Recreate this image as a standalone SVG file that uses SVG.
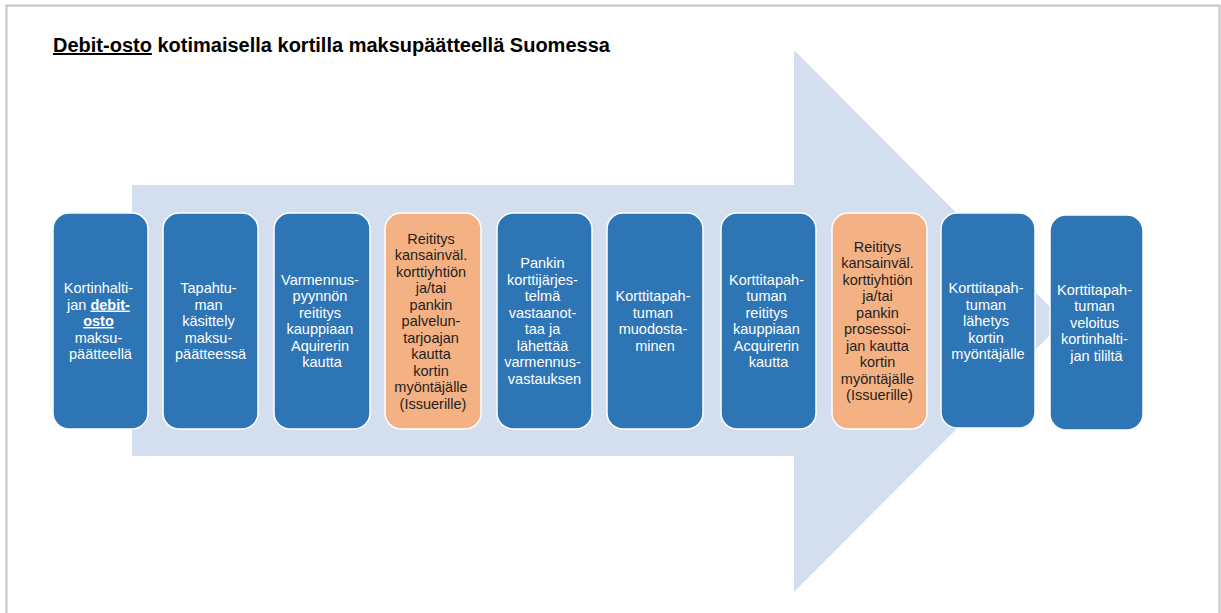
<svg xmlns="http://www.w3.org/2000/svg" width="1221" height="613" viewBox="0 0 1221 613">
  <style>
    .frame { fill: none; stroke: #c3c3c3; stroke-width: 2; }
    .arrow { fill: #d3deef; }
    .box { stroke: #ffffff; stroke-width: 1.5; }
    .blue { fill: #2e75b6; }
    .orange { fill: #f4b183; }
    .t { font-family: "Liberation Sans", Arial, sans-serif; font-size: 14.5px; text-anchor: middle; }
    .tw { fill: #ffffff; }
    .td { fill: #1f1f1f; }
    .title { font-family: "Liberation Sans", Arial, sans-serif; font-size: 20px; font-weight: bold; fill: #000000; }
    .u { text-decoration: underline; }
  </style>
  <rect width="1221" height="613" fill="#ffffff"/>
  <path class="frame" d="M6.5,613 V5.5 H1219.5 V613"/>
  <text class="title" x="53" y="52"><tspan class="u">Debit-osto</tspan> kotimaisella kortilla maksupäätteellä Suomessa</text>

  <g id="connectors">
    <polygon id="flow-arrow" class="arrow" points="132,185 794,185 794,50 1064,321 794,592 794,456 132,456"/>
  </g>

  <g id="n1">
    <rect class="box blue" x="53" y="213" width="95" height="216" rx="16"/>
    <text class="t tw" y="293">
      <tspan x="100.5">Kortinhalti-</tspan>
      <tspan x="100.5" dy="16.5">jan <tspan font-weight="bold" class="u">debit-</tspan></tspan>
      <tspan x="100.5" dy="16.5" font-weight="bold" class="u">osto</tspan>
      <tspan x="100.5" dy="16.5">maksu-</tspan>
      <tspan x="100.5" dy="16.5">päätteellä</tspan>
    </text>
  </g>
  <g id="n2">
    <rect class="box blue" x="163" y="213" width="95" height="216" rx="16"/>
    <text class="t tw" y="293">
      <tspan x="210.5">Tapahtu-</tspan>
      <tspan x="210.5" dy="16.5">man</tspan>
      <tspan x="210.5" dy="16.5">käsittely</tspan>
      <tspan x="210.5" dy="16.5">maksu-</tspan>
      <tspan x="210.5" dy="16.5">päätteessä</tspan>
    </text>
  </g>
  <g id="n3">
    <rect class="box blue" x="274" y="213" width="96" height="216" rx="16"/>
    <text class="t tw" y="284.75">
      <tspan x="322">Varmennus-</tspan>
      <tspan x="322" dy="16.5">pyynnön</tspan>
      <tspan x="322" dy="16.5">reititys</tspan>
      <tspan x="322" dy="16.5">kauppiaan</tspan>
      <tspan x="322" dy="16.5">Aquirerin</tspan>
      <tspan x="322" dy="16.5">kautta</tspan>
    </text>
  </g>
  <g id="n4">
    <rect class="box orange" x="385" y="213" width="96" height="216" rx="16"/>
    <text class="t td" y="243.5">
      <tspan x="433">Reititys</tspan>
      <tspan x="433" dy="16.5">kansainväl.</tspan>
      <tspan x="433" dy="16.5">korttiyhtiön</tspan>
      <tspan x="433" dy="16.5">ja/tai</tspan>
      <tspan x="433" dy="16.5">pankin</tspan>
      <tspan x="433" dy="16.5">palvelun-</tspan>
      <tspan x="433" dy="16.5">tarjoajan</tspan>
      <tspan x="433" dy="16.5">kautta</tspan>
      <tspan x="433" dy="16.5">kortin</tspan>
      <tspan x="433" dy="16.5">myöntäjälle</tspan>
      <tspan x="433" dy="16.5">(Issuerille)</tspan>
    </text>
  </g>
  <g id="n5">
    <rect class="box blue" x="497" y="213" width="95" height="216" rx="16"/>
    <text class="t tw" y="268.25">
      <tspan x="544.5">Pankin</tspan>
      <tspan x="544.5" dy="16.5">korttijärjes-</tspan>
      <tspan x="544.5" dy="16.5">telmä</tspan>
      <tspan x="544.5" dy="16.5">vastaanot-</tspan>
      <tspan x="544.5" dy="16.5">taa ja</tspan>
      <tspan x="544.5" dy="16.5">lähettää</tspan>
      <tspan x="544.5" dy="16.5">varmennus-</tspan>
      <tspan x="544.5" dy="16.5">vastauksen</tspan>
    </text>
  </g>
  <g id="n6">
    <rect class="box blue" x="607" y="213" width="96" height="216" rx="16"/>
    <text class="t tw" y="301.25">
      <tspan x="655">Korttitapah-</tspan>
      <tspan x="655" dy="16.5">tuman</tspan>
      <tspan x="655" dy="16.5">muodosta-</tspan>
      <tspan x="655" dy="16.5">minen</tspan>
    </text>
  </g>
  <g id="n7">
    <rect class="box blue" x="721" y="213" width="95" height="216" rx="16"/>
    <text class="t tw" y="284.75">
      <tspan x="768.5">Korttitapah-</tspan>
      <tspan x="768.5" dy="16.5">tuman</tspan>
      <tspan x="768.5" dy="16.5">reititys</tspan>
      <tspan x="768.5" dy="16.5">kauppiaan</tspan>
      <tspan x="768.5" dy="16.5">Acquirerin</tspan>
      <tspan x="768.5" dy="16.5">kautta</tspan>
    </text>
  </g>
  <g id="n8">
    <rect class="box orange" x="832" y="213" width="95" height="216" rx="16"/>
    <text class="t td" y="251.75">
      <tspan x="879.5">Reititys</tspan>
      <tspan x="879.5" dy="16.5">kansainväl.</tspan>
      <tspan x="879.5" dy="16.5">korttiyhtiön</tspan>
      <tspan x="879.5" dy="16.5">ja/tai</tspan>
      <tspan x="879.5" dy="16.5">pankin</tspan>
      <tspan x="879.5" dy="16.5">prosessoi-</tspan>
      <tspan x="879.5" dy="16.5">jan kautta</tspan>
      <tspan x="879.5" dy="16.5">kortin</tspan>
      <tspan x="879.5" dy="16.5">myöntäjälle</tspan>
      <tspan x="879.5" dy="16.5">(Issuerille)</tspan>
    </text>
  </g>
  <g id="n9">
    <rect class="box blue" x="941" y="213" width="94" height="215" rx="16"/>
    <text class="t tw" y="293">
      <tspan x="988">Korttitapah-</tspan>
      <tspan x="988" dy="16.5">tuman</tspan>
      <tspan x="988" dy="16.5">lähetys</tspan>
      <tspan x="988" dy="16.5">kortin</tspan>
      <tspan x="988" dy="16.5">myöntäjälle</tspan>
    </text>
  </g>
  <g id="n10">
    <rect class="box blue" x="1050" y="215" width="93" height="215" rx="16"/>
    <text class="t tw" y="294.5">
      <tspan x="1096.5">Korttitapah-</tspan>
      <tspan x="1096.5" dy="16.5">tuman</tspan>
      <tspan x="1096.5" dy="16.5">veloitus</tspan>
      <tspan x="1096.5" dy="16.5">kortinhalti-</tspan>
      <tspan x="1096.5" dy="16.5">jan tililtä</tspan>
    </text>
  </g>
</svg>
